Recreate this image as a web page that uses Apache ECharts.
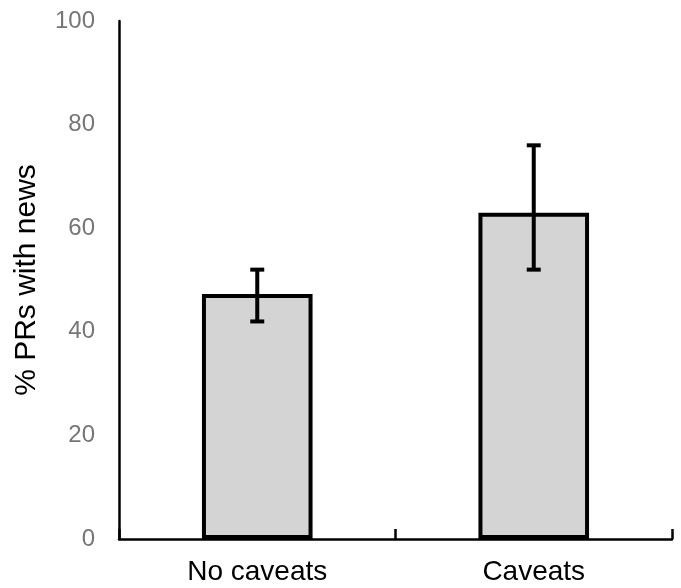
<!DOCTYPE html>
<html><head><meta charset="utf-8">
<script src="https://cdn.jsdelivr.net/npm/echarts@6/dist/echarts.min.js"></script>
<style>html,body{margin:0;padding:0;background:#fff}#c{width:681px;height:588px}</style>
</head><body><div id="c"></div>
<script>
const categories = ['No caveats', 'Caveats'];
const values = [47.3, 63];
const errLow = [42, 52];
const errHigh = [52, 76];
const yTicks = [0, 20, 40, 60, 80, 100];

const chart = echarts.init(document.getElementById('c'));
chart.setOption({
  animation: false,
  grid: { left: 119, right: 9, top: 21, bottom: 49 },
  xAxis: {
    type: 'category', data: categories, boundaryGap: true,
    axisLine: { lineStyle: { color: '#000', width: 2.5 } },
    axisTick: { show: true, inside: true, length: 10, lineStyle: { color: '#000', width: 2.5 } },
    axisLabel: { color: '#000', fontSize: 28, fontFamily: 'Liberation Sans', margin: 19 }
  },
  yAxis: {
    type: 'value', min: yTicks[0], max: yTicks[yTicks.length - 1], interval: 20,
    name: '% PRs with news', nameLocation: 'middle', nameGap: 77, nameRotate: 90,
    nameTextStyle: { color: '#000', fontSize: 30, fontFamily: 'Liberation Sans' },
    axisLine: { show: true, lineStyle: { color: '#000', width: 2.5 } },
    axisTick: { show: false },
    splitLine: { show: false },
    axisLabel: { color: '#767676', fontSize: 24, fontFamily: 'Liberation Sans', margin: 24 }
  },
  series: [
    {
      type: 'bar', data: values, barWidth: '40%',
      itemStyle: { color: '#d4d4d4', borderColor: '#000', borderWidth: 4 }
    },
    {
      type: 'custom',
      data: categories.map((c, i) => [i, errLow[i], errHigh[i]]),
      renderItem: function (params, api) {
        const lo = api.coord([api.value(0), api.value(1)]);
        const hi = api.coord([api.value(0), api.value(2)]);
        const hw = 7;
        const st = { stroke: '#000', lineWidth: 4 };
        return {
          type: 'group',
          children: [
            { type: 'line', shape: { x1: lo[0], y1: lo[1], x2: hi[0], y2: hi[1] }, style: st },
            { type: 'line', shape: { x1: lo[0] - hw, y1: lo[1], x2: lo[0] + hw, y2: lo[1] }, style: st },
            { type: 'line', shape: { x1: hi[0] - hw, y1: hi[1], x2: hi[0] + hw, y2: hi[1] }, style: st }
          ]
        };
      },
      z: 10
    }
  ]
});
</script></body></html>
